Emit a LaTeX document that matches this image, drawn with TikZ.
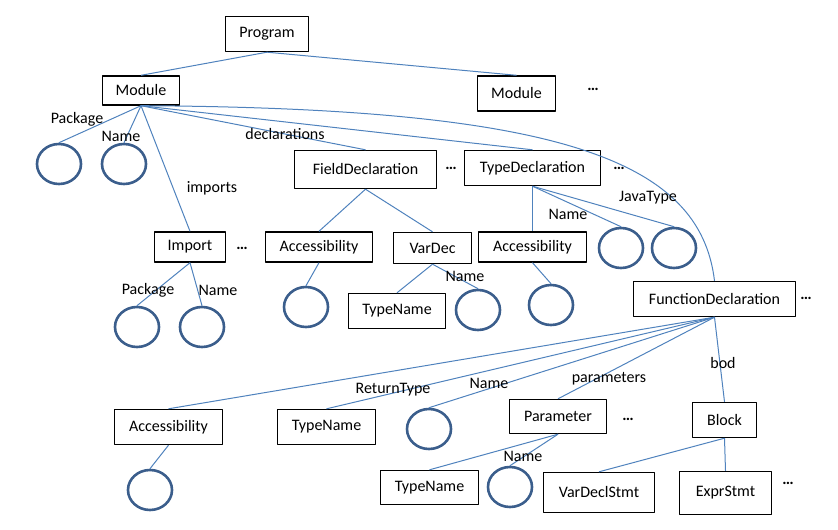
\documentclass[tikz,border=0pt]{standalone}
\usepackage{fontspec}
\setmainfont{Carlito}
\usetikzlibrary{shapes.geometric}

\definecolor{edgecol}{rgb}{0.31,0.51,0.74}
\definecolor{ringcol}{rgb}{0.23,0.37,0.55}

\begin{document}
\begin{tikzpicture}[x=1bp,y=-1bp,line join=bevel,
    font=\fontsize{16bp}{19bp}\selectfont,
    box/.style={draw=black,line width=1.4bp,fill=white,inner sep=0pt},
    ring/.style={draw=ringcol,ellipse,line width=2.6bp,minimum width=44bp,minimum height=40bp,inner sep=0pt},
    edge/.style={draw=edgecol,line width=1bp},
    lbl/.style={inner sep=0pt},
    dots/.style={inner sep=0pt,font=\fontsize{16bp}{19bp}\bfseries}]
  \useasboundingbox (0,0) rectangle (838,530);
  %%
  % Node: Program
  \node[box,minimum width=83bp,minimum height=35bp] (prog) at (267,34) {Program};
  % Node: Module
  \node[box,minimum width=77bp,minimum height=29bp] (mod) at (141,90.5) {Module};
  \node[box,minimum width=78bp,minimum height=35bp] (modb) at (516.5,93.5) {Module};
  \node[dots] (dotsa) at (593,89) {…};
  % Node: FieldDeclaration
  \node[box,minimum width=142bp,minimum height=38bp] (fdecl) at (365.5,169.5) {FieldDeclaration};
  \node[dots] (dotsb) at (451,168) {…};
  % Node: TypeDeclaration
  \node[box,minimum width=136bp,minimum height=35bp] (tdecl) at (532.5,168) {TypeDeclaration};
  \node[dots] (dotsc) at (619,168) {…};
  % Node: Import
  \node[box,minimum width=71bp,minimum height=30bp] (imp) at (190,247) {Import};
  \node[dots] (dotsd) at (242,248) {…};
  % Node: Accessibility (field)
  \node[box,minimum width=107bp,minimum height=30bp] (acca) at (319,247) {Accessibility};
  % Node: VarDec
  \node[box,minimum width=78bp,minimum height=31bp] (vdec) at (432.5,248) {VarDec};
  \node[box,minimum width=97bp,minimum height=35bp] (tnamea) at (397,311) {TypeName};
  % Node: Accessibility (type)
  \node[box,minimum width=108bp,minimum height=30bp] (accb) at (532.5,247) {Accessibility};
  % Node: FunctionDeclaration
  \node[box,minimum width=162bp,minimum height=35bp] (fdef) at (714.5,299) {FunctionDeclaration};
  \node[dots] (dotse) at (806,298) {…};
  % Node: children of FunctionDeclaration
  \node[box,minimum width=108bp,minimum height=35bp] (accc) at (168.5,427) {Accessibility};
  \node[box,minimum width=98bp,minimum height=35bp] (tnameb) at (326.5,427) {TypeName};
  \node[box,minimum width=97bp,minimum height=34bp] (param) at (558,416.5) {Parameter};
  \node[dots] (dotsf) at (628,419) {…};
  \node[box,minimum width=64bp,minimum height=35bp] (block) at (724.5,420) {Block};
  \node[box,minimum width=98bp,minimum height=34bp] (tnamec) at (429.5,487.5) {TypeName};
  \node[box,minimum width=111bp,minimum height=40bp] (vstmt) at (599,492.5) {VarDeclStmt};
  \node[box,minimum width=92bp,minimum height=43bp] (estmt) at (725.5,493) {ExprStmt};
  \node[dots] (dotsg) at (788,483) {…};
  %
  % Node: leaves
  \node[ring] (pkga) at (59,164) {};
  \node[ring] (namea) at (124,164) {};
  \node[ring] (pkgb) at (137,327) {};
  \node[ring] (nameb) at (202,327) {};
  \node[ring] (acca0) at (306,307) {};
  \node[ring] (namec) at (478,310) {};
  \node[ring] (accb0) at (551,305) {};
  \node[ring] (named) at (621,248) {};
  \node[ring] (jtype) at (674,248) {};
  \node[ring] (accc0) at (150,490) {};
  \node[ring] (namee) at (429,429) {};
  \node[ring] (namef) at (510,487) {};
  %
  % Edge: Program -> Module
  \draw[edge] (prog.south) -- (mod.north);
  \draw[edge] (prog.south) -- (modb.north);
  % Edge: Module -> ...
  \draw[edge] (mod.south) -- (pkga.north);
  \draw[edge] (mod.south) -- (namea.north);
  \draw[edge] (mod.south) -- (imp.north);
  \draw[edge] (mod.south) -- (fdecl.north);
  \draw[edge] (mod.south) -- (tdecl.north);
  \draw[edge] (mod.south) .. controls (560,108) and (700,160) .. (fdef.north);
  % Edge: FieldDeclaration -> ...
  \draw[edge] (fdecl.south) -- (acca.north);
  \draw[edge] (fdecl.south) -- (vdec.north);
  \draw[edge] (acca.south) -- (acca0.north);
  \draw[edge] (vdec.south) -- (tnamea.north);
  \draw[edge] (vdec.south) -- (namec.north);
  % Edge: Import -> ...
  \draw[edge] (imp.south) -- (pkgb.north);
  \draw[edge] (imp.south) -- (nameb.north);
  % Edge: TypeDeclaration -> ...
  \draw[edge] (tdecl.south) -- (accb.north);
  \draw[edge] (tdecl.south) -- (named.north);
  \draw[edge] (tdecl.south) -- (jtype.north);
  \draw[edge] (accb.south) -- (accb0.north);
  % Edge: FunctionDeclaration -> ...
  \draw[edge] (fdef.south) -- (accc.north);
  \draw[edge] (fdef.south) -- (tnameb.north);
  \draw[edge] (fdef.south) -- (namee.north);
  \draw[edge] (fdef.south) -- (param.north);
  \draw[edge] (fdef.south) -- (block.north);
  \draw[edge] (accc.south) -- (accc0.north);
  \draw[edge] (param.south) -- (tnamec.north);
  \draw[edge] (param.south) -- (namef.north);
  \draw[edge] (block.south) -- (vstmt.north);
  \draw[edge] (block.south) -- (estmt.north);
  %
  % Labels
  \node[lbl] (lpkga) at (77,119) {Package};
  \node[lbl] (lnamea) at (121,136) {Name};
  \node[lbl] (ldecl) at (285,134) {declarations};
  \node[lbl] (limp) at (212,188) {imports};
  \node[lbl] (lpkgb) at (148,290) {Package};
  \node[lbl] (lnameb) at (218,290) {Name};
  \node[lbl] (lnamec) at (465,276) {Name};
  \node[lbl] (lnamed) at (568,214) {Name};
  \node[lbl] (ljtype) at (648,198) {JavaType};
  \node[lbl] (lret) at (393,390) {ReturnType};
  \node[lbl] (lnamee) at (489,383) {Name};
  \node[lbl] (lparam) at (609,379) {parameters};
  \node[lbl] (lbody) at (723,363) {bod};
  \node[lbl] (lnamef) at (523,456) {Name};
\end{tikzpicture}
\end{document}
